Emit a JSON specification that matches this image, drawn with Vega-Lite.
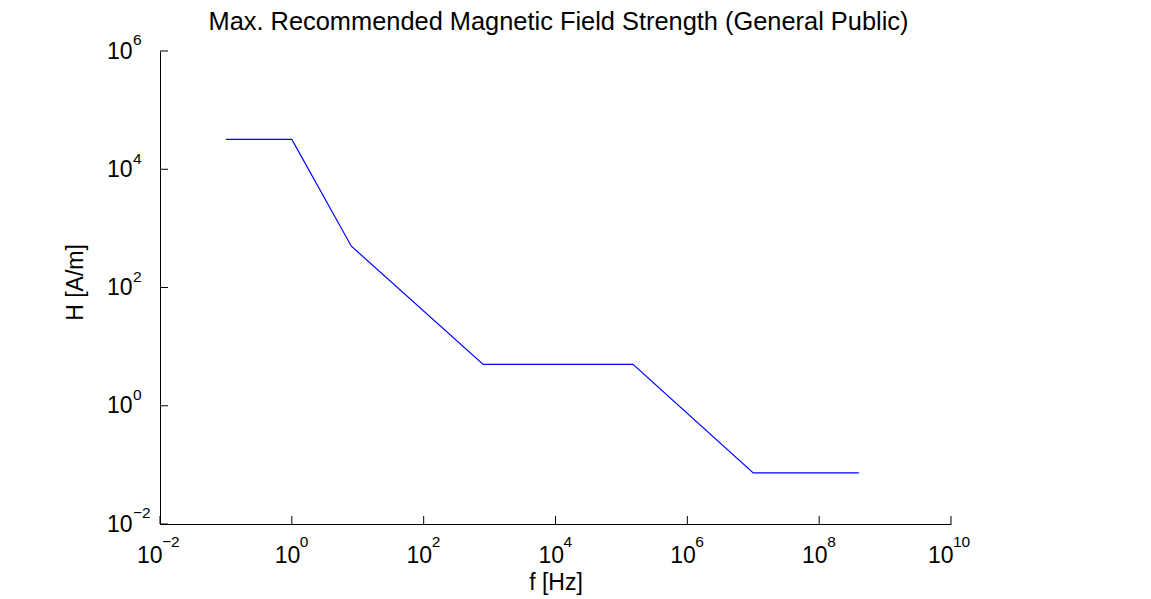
{
  "$schema": "https://vega.github.io/schema/vega-lite/v6.json",
  "width": 791,
  "height": 473,
  "autosize": "none",
  "padding": {"left": 160, "top": 51, "right": 200, "bottom": 75},
  "background": "white",
  "title": {
    "text": "Max. Recommended Magnetic Field Strength (General Public)",
    "font": "Liberation Sans",
    "fontSize": 25.4,
    "fontWeight": "normal",
    "color": "black",
    "anchor": "middle",
    "offset": -1.5,
    "dx": 3
  },
  "layer": [
    {
      "data": {
        "values": [
          {"f": 0.1, "H": 32000},
          {"f": 1, "H": 32000},
          {"f": 8, "H": 500},
          {"f": 800, "H": 5},
          {"f": 150000, "H": 5},
          {"f": 10000000, "H": 0.073},
          {"f": 400000000, "H": 0.073}
        ]
      },
      "mark": {"type": "line", "color": "#0000ff", "strokeWidth": 1.2},
      "encoding": {
        "x": {
          "field": "f",
          "type": "quantitative",
          "scale": {"type": "log", "domain": [0.01, 10000000000], "nice": false},
          "axis": {
            "title": "f [Hz]",
            "values": [0.01, 1, 100, 10000, 1000000, 100000000, 10000000000],
            "labelExpr": "'10'",
            "ticks": false,
            "labelAlign": "right",
            "labelOffset": {"condition": {"test": "datum.value < 0.1 || datum.value > 1000000000", "value": 2}, "value": 8},
            "labelPadding": 20,
            "titlePadding": 4,
            "labelFlush": false,
            "labelOverlap": false
          }
        },
        "y": {
          "field": "H",
          "type": "quantitative",
          "scale": {"type": "log", "domain": [0.01, 1000000], "nice": false},
          "axis": {
            "title": "H [A/m]",
            "values": [0.01, 1, 100, 10000, 1000000],
            "labelExpr": "'10'",
            "ticks": false,
            "labelAlign": "right",
            "labelBaseline": "middle",
            "labelPadding": 28,
            "titlePadding": 19,
            "titleY": 231,
            "labelFlush": false,
            "labelOverlap": false
          }
        }
      }
    },
    {
      "data": {"values": [{"v": 0.01}, {"v": 1}, {"v": 100}, {"v": 10000}, {"v": 1000000}, {"v": 100000000}, {"v": 10000000000}]},
      "mark": {"type": "tick", "orient": "vertical", "size": 8, "thickness": 1, "yOffset": -4, "color": "black", "opacity": 1},
      "encoding": {
        "x": {"field": "v", "type": "quantitative", "scale": {"type": "log", "domain": [0.01, 10000000000], "nice": false}},
        "y": {"datum": 0.01, "type": "quantitative", "scale": {"type": "log", "domain": [0.01, 1000000], "nice": false}}
      }
    },
    {
      "data": {"values": [{"v": 0.01}, {"v": 1}, {"v": 100}, {"v": 10000}, {"v": 1000000}]},
      "mark": {"type": "tick", "orient": "horizontal", "size": 8, "thickness": 1, "xOffset": 4, "color": "black", "opacity": 1},
      "encoding": {
        "y": {"field": "v", "type": "quantitative", "scale": {"type": "log", "domain": [0.01, 1000000], "nice": false}},
        "x": {"datum": 0.01, "type": "quantitative", "scale": {"type": "log", "domain": [0.01, 10000000000], "nice": false}}
      }
    },
    {
      "data": {"values": [{"v": 1, "e": "0"}, {"v": 100, "e": "2"}, {"v": 10000, "e": "4"}, {"v": 1000000, "e": "6"}, {"v": 100000000, "e": "8"}]},
      "mark": {"type": "text", "align": "left", "baseline": "middle", "dx": 8, "dy": 18.4, "font": "Liberation Sans", "fontSize": 15.5, "color": "black"},
      "encoding": {
        "x": {"field": "v", "type": "quantitative", "scale": {"type": "log", "domain": [0.01, 10000000000], "nice": false}},
        "y": {"datum": 0.01, "type": "quantitative", "scale": {"type": "log", "domain": [0.01, 1000000], "nice": false}},
        "text": {"field": "e"}
      }
    },
    {
      "data": {"values": [{"v": 0.01, "e": "−2"}, {"v": 10000000000, "e": "10"}]},
      "mark": {"type": "text", "align": "left", "baseline": "middle", "dx": 2, "dy": 18.4, "font": "Liberation Sans", "fontSize": 15.5, "color": "black"},
      "encoding": {
        "x": {"field": "v", "type": "quantitative", "scale": {"type": "log", "domain": [0.01, 10000000000], "nice": false}},
        "y": {"datum": 0.01, "type": "quantitative", "scale": {"type": "log", "domain": [0.01, 1000000], "nice": false}},
        "text": {"field": "e"}
      }
    },
    {
      "data": {"values": [{"v": 0.01, "e": "−2"}, {"v": 1, "e": "0"}, {"v": 100, "e": "2"}, {"v": 10000, "e": "4"}, {"v": 1000000, "e": "6"}]},
      "mark": {"type": "text", "align": "left", "baseline": "middle", "dx": -27, "dy": -10.6, "font": "Liberation Sans", "fontSize": 15.5, "color": "black"},
      "encoding": {
        "y": {"field": "v", "type": "quantitative", "scale": {"type": "log", "domain": [0.01, 1000000], "nice": false}},
        "x": {"datum": 0.01, "type": "quantitative", "scale": {"type": "log", "domain": [0.01, 10000000000], "nice": false}},
        "text": {"field": "e"}
      }
    }
  ],
  "config": {
    "view": {"stroke": null},
    "axis": {
      "grid": false,
      "domainColor": "black",
      "domainWidth": 1,
      "labelColor": "black",
      "titleColor": "black",
      "labelFont": "Liberation Sans",
      "titleFont": "Liberation Sans",
      "labelFontSize": 23,
      "titleFontSize": 23,
      "titleFontWeight": "normal"
    }
  }
}
